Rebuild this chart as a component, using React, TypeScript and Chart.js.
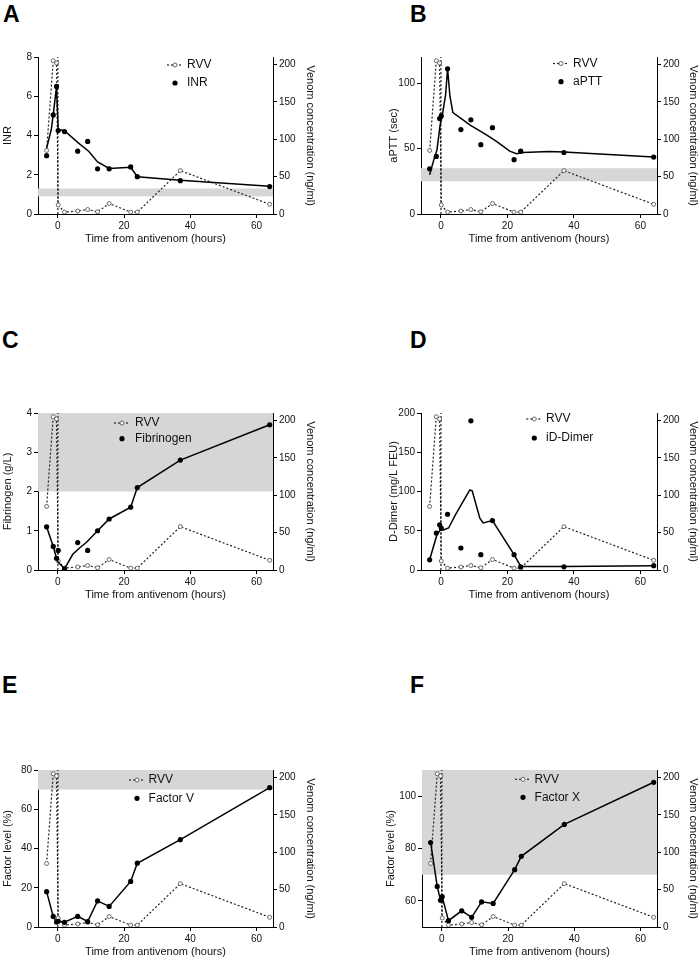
import React, { useEffect, useRef } from "react";
import { Chart, registerables } from "chart.js";

Chart.register(...registerables);

const FONT = "'Liberation Sans', Arial, Helvetica, sans-serif";

// ---------- data ----------
const sampleHours = [-3.4, -1.4, -0.4, 0.1, 2, 6, 9, 12, 15.5, 22, 24, 37, 64];
const rvvConc = [85, 205, 202, 12, 2.5, 4, 6, 3, 14, 2.5, 2.5, 58, 13];
const antivenomHour = 0;

const inrValues = [2.97, 5.05, 6.5, 4.25, 4.2, 3.2, 3.7, 2.3, 2.3, 2.4, 1.9, 1.7, 1.4];
const inrTrendHours = [-3.4, -2.0, -1.4, -0.4, 0.1, 2, 6, 9.3, 12, 15.5, 22, 24, 37, 64];
const inrTrendValues = [3.35, 4.3, 5.05, 6.5, 4.3, 4.25, 3.65, 3.2, 2.65, 2.32, 2.38, 1.9, 1.72, 1.41];

const apttValues = [34.5, 44, 73, 75, 111, 64.5, 72, 53, 66, 41.5, 48, 47, 43.5];
const apttTrendHours = [-3.4, -2.2, -1.2, -0.3, 0.5, 1.4, 2, 2.7, 3.6, 8.8, 13.7, 16.7, 20.7, 22.7, 24.7, 32.6, 37, 64];
const apttTrendValues = [30, 41, 49, 67, 77, 91, 111, 90, 77.5, 68, 60.5, 55.5, 48, 46, 47, 47.8, 47.3, 43.5];

const fibValues = [1.1, 0.6, 0.3, 0.5, 0.03, 0.7, 0.5, 1.0, 1.3, 1.6, 2.1, 2.8, 3.7];
const fibTrendHours = [-3.4, -1.4, -0.4, 0.1, 2, 4.5, 6.8, 8.6, 12, 15.5, 22, 24, 37, 64];
const fibTrendValues = [1.1, 0.6, 0.3, 0.2, 0.03, 0.4, 0.58, 0.7, 1.0, 1.3, 1.6, 2.1, 2.8, 3.7];

const ddimerValues = [13, 47, 57.5, 53.5, 71, 28, 190, 19.5, 63, 19.5, 4, 4, 5.5];
const ddimerTrendHours = [-3.4, -1.2, -0.2, 0.8, 2.3, 4.3, 7.3, 8.7, 9.4, 11.7, 12.7, 15.5, 22, 24, 37, 64];
const ddimerTrendValues = [13, 45, 51, 51, 53.5, 70, 92, 102, 101, 66, 60, 63, 19.5, 4.6, 4.5, 5.5];

const factorVValues = [18, 5.4, 2.5, 2.9, 2.4, 5.4, 2.8, 13.3, 10.5, 23.2, 32.5, 44.5, 71];
const factorXValues = [82.3, 65.5, 60.2, 61.6, 52.4, 56.2, 53.7, 59.6, 59, 71.9, 77, 89.2, 105.3];

const xTicks = [0, 20, 40, 60];
const venomTicks = [0, 50, 100, 150, 200];
const inrTicks = [0, 2, 4, 6, 8];
const apttTicks = [0, 50, 100];
const fibTicks = [0, 1, 2, 3, 4];
const ddimerTicks = [0, 50, 100, 150, 200];
const factorVTicks = [0, 20, 40, 60, 80];
const factorXTicks = [60, 80, 100];

const inrNormal = [0.9, 1.3];
const apttNormal = [25, 35];
const fibNormal = [2, 4];
const factorVNormal = [70, 80];
const factorXNormal = [70, 110];

const X_MIN = -6;
const X_MAX = 65;
const VENOM_MAX = 210;

// ---------- panel layout ----------
type Panel = {
  letter: string;
  letterX: number;
  letterBaseline: number;
  originX: number;
  plotLeft: number;
  plotRight: number;
  plotTop: number;
  plotBottom: number;
  leftTitleX: number;
  rightTitleX: number;
  yTitle: string;
  yMin: number;
  yMax: number;
  yTicks: number[];
  label: string;
  values: number[];
  trendHours?: number[];
  trendValues?: number[];
  connect?: boolean;
  band?: number[];
  legSym: number;
  legText: number;
  legRow1: number;
  legRow2: number;
};

const panels: Panel[] = [
  {
    letter: "A", letterX: 3, letterBaseline: 22,
    originX: 0, plotLeft: 38, plotRight: 273, plotTop: 57, plotBottom: 214,
    leftTitleX: 8, rightTitleX: 310,
    yTitle: "INR", yMin: 0, yMax: 8, yTicks: inrTicks,
    label: "INR", values: inrValues, trendHours: inrTrendHours, trendValues: inrTrendValues,
    band: inrNormal, legSym: 137, legText: 149, legRow1: 8, legRow2: 26,
  },
  {
    letter: "B", letterX: 410, letterBaseline: 22,
    originX: 350, plotLeft: 421, plotRight: 657, plotTop: 57, plotBottom: 214,
    leftTitleX: 394, rightTitleX: 693,
    yTitle: "aPTT (sec)", yMin: 0, yMax: 120, yTicks: apttTicks,
    label: "aPTT", values: apttValues, trendHours: apttTrendHours, trendValues: apttTrendValues,
    band: apttNormal, legSym: 140, legText: 152, legRow1: 6.5, legRow2: 24.7,
  },
  {
    letter: "C", letterX: 2, letterBaseline: 348,
    originX: 0, plotLeft: 38, plotRight: 273, plotTop: 413, plotBottom: 570,
    leftTitleX: 8, rightTitleX: 310,
    yTitle: "Fibrinogen (g/L)", yMin: 0, yMax: 4, yTicks: fibTicks,
    label: "Fibrinogen", values: fibValues, trendHours: fibTrendHours, trendValues: fibTrendValues,
    band: fibNormal, legSym: 84, legText: 97, legRow1: 10, legRow2: 25.7,
  },
  {
    letter: "D", letterX: 410, letterBaseline: 348,
    originX: 350, plotLeft: 421, plotRight: 657, plotTop: 413, plotBottom: 570,
    leftTitleX: 394, rightTitleX: 693,
    yTitle: "D-Dimer (mg/L FEU)", yMin: 0, yMax: 200, yTicks: ddimerTicks,
    label: "iD-Dimer", values: ddimerValues, trendHours: ddimerTrendHours, trendValues: ddimerTrendValues,
    legSym: 113.3, legText: 125, legRow1: 6, legRow2: 25,
  },
  {
    letter: "E", letterX: 2, letterBaseline: 693,
    originX: 0, plotLeft: 38, plotRight: 273, plotTop: 770, plotBottom: 927,
    leftTitleX: 8, rightTitleX: 310,
    yTitle: "Factor level (%)", yMin: 0, yMax: 80, yTicks: factorVTicks,
    label: "Factor V", values: factorVValues, connect: true,
    band: factorVNormal, legSym: 99, legText: 110.6, legRow1: 10, legRow2: 28.3,
  },
  {
    letter: "F", letterX: 410, letterBaseline: 693,
    originX: 350, plotLeft: 422, plotRight: 657, plotTop: 770, plotBottom: 927,
    leftTitleX: 391, rightTitleX: 693,
    yTitle: "Factor level (%)", yMin: 50, yMax: 110, yTicks: factorXTicks,
    label: "Factor X", values: factorXValues, connect: true,
    band: factorXNormal, legSym: 101, legText: 112.6, legRow1: 9.3, legRow2: 27.3,
  },
];

const CANVAS_W = 350;
const TOP_PAD = 12;
const X_AXIS_H = 33;
const TITLE_SIZE = 11;
const TICK_SIZE = 10;
const HALF_LINE = (TITLE_SIZE * 1.2) / 2;

function canvasHeight(p: Panel) {
  return TOP_PAD + (p.plotBottom - p.plotTop) + X_AXIS_H;
}

function PanelChart({ p }: { p: Panel }) {
  const ref = useRef<HTMLCanvasElement>(null);

  useEffect(() => {
    const canvas = ref.current;
    if (!canvas) return;
    const leftW = p.plotLeft - p.originX;
    const rightW = p.originX + CANVAS_W - p.plotRight;

    const datasets: any[] = [];
    datasets.push({
      label: p.label,
      data: sampleHours.map((h, i) => ({ x: h, y: p.values[i] })),
      showLine: !!p.connect,
      borderColor: "#000",
      borderWidth: 1.5,
      pointRadius: 2.6,
      pointBackgroundColor: "#000",
      pointBorderColor: "#000",
      pointBorderWidth: 0,
      yAxisID: "y",
    });
    if (p.trendHours && p.trendValues) {
      const tv = p.trendValues;
      datasets.push({
        label: p.label + " trend",
        data: p.trendHours.map((h, i) => ({ x: h, y: tv[i] })),
        showLine: true,
        borderColor: "#000",
        borderWidth: 1.5,
        pointRadius: 0,
        yAxisID: "y",
      });
    }
    datasets.push({
      label: "RVV",
      data: sampleHours.map((h, i) => ({ x: h, y: rvvConc[i] })),
      showLine: true,
      borderColor: "#222",
      borderWidth: 1.2,
      borderDash: [2, 2],
      pointRadius: 2,
      pointBackgroundColor: "#fff",
      pointBorderColor: "#666",
      pointBorderWidth: 1,
      yAxisID: "y1",
    });
    datasets.push({
      label: "antivenom",
      data: [
        { x: antivenomHour, y: 0 },
        { x: antivenomHour, y: VENOM_MAX },
      ],
      showLine: true,
      borderColor: "#222",
      borderWidth: 1.2,
      borderDash: [2, 2],
      pointRadius: 0,
      yAxisID: "y1",
    });

    const tickFont = { family: FONT, size: TICK_SIZE };
    const titleFont = { family: FONT, size: TITLE_SIZE };
    const grid = { drawOnChartArea: false, drawTicks: true, tickLength: 4, color: "#000", lineWidth: 1 };
    const border = { display: true, color: "#000", width: 1 };

    const bandPlugin = {
      id: "normalBand",
      beforeDatasetsDraw(chart: any) {
        if (!p.band) return;
        const { ctx, chartArea } = chart;
        const ys = chart.scales.y;
        const top = ys.getPixelForValue(p.band[1]);
        const bot = ys.getPixelForValue(p.band[0]);
        ctx.save();
        ctx.fillStyle = "#d6d6d6";
        ctx.fillRect(chartArea.left, top, chartArea.right - chartArea.left, bot - top);
        ctx.restore();
      },
    };

    const legendPlugin = {
      id: "panelLegend",
      afterDatasetsDraw(chart: any) {
        const { ctx, chartArea } = chart;
        const sx = chartArea.left + p.legSym;
        const tx = chartArea.left + p.legText;
        const y1 = chartArea.top + p.legRow1;
        const y2 = chartArea.top + p.legRow2;
        ctx.save();
        ctx.strokeStyle = "#222";
        ctx.lineWidth = 1.2;
        ctx.setLineDash([2, 2]);
        ctx.beginPath();
        ctx.moveTo(sx - 8, y1);
        ctx.lineTo(sx + 8, y1);
        ctx.stroke();
        ctx.setLineDash([]);
        ctx.beginPath();
        ctx.arc(sx, y1, 2, 0, Math.PI * 2);
        ctx.fillStyle = "#fff";
        ctx.fill();
        ctx.strokeStyle = "#666";
        ctx.lineWidth = 1;
        ctx.stroke();
        ctx.beginPath();
        ctx.arc(sx, y2, 2.6, 0, Math.PI * 2);
        ctx.fillStyle = "#000";
        ctx.fill();
        ctx.font = `12px ${FONT}`;
        ctx.fillStyle = "#111";
        ctx.textBaseline = "middle";
        ctx.textAlign = "left";
        ctx.fillText("RVV", tx, y1);
        ctx.fillText(p.label, tx, y2);
        ctx.restore();
      },
    };

    const chart = new Chart(canvas, {
      type: "scatter",
      data: { datasets },
      plugins: [bandPlugin, legendPlugin],
      options: {
        animation: false,
        responsive: false,
        maintainAspectRatio: false,
        devicePixelRatio: 1,
        layout: { padding: { top: TOP_PAD, left: 0, right: 0, bottom: 0 } },
        plugins: { legend: { display: false }, tooltip: { enabled: false }, title: { display: false } },
        scales: {
          x: {
            type: "linear",
            position: "bottom",
            min: X_MIN,
            max: X_MAX,
            afterBuildTicks: (s: any) => {
              s.ticks = xTicks.map((v) => ({ value: v }));
            },
            afterFit: (s: any) => {
              s.height = X_AXIS_H;
            },
            grid,
            border,
            ticks: { font: tickFont, color: "#111", padding: 2, maxRotation: 0, autoSkip: false },
            title: {
              display: true,
              text: "Time from antivenom (hours)",
              font: titleFont,
              color: "#111",
              padding: { top: 0, bottom: 1.4 },
            },
          },
          y: {
            type: "linear",
            position: "left",
            min: p.yMin,
            max: p.yMax,
            afterBuildTicks: (s: any) => {
              s.ticks = p.yTicks.map((v) => ({ value: v }));
            },
            afterFit: (s: any) => {
              s.width = leftW;
            },
            grid,
            border,
            ticks: { font: tickFont, color: "#111", padding: 2, autoSkip: false },
            title: {
              display: true,
              text: p.yTitle,
              font: titleFont,
              color: "#111",
              padding: { top: p.leftTitleX - p.originX - HALF_LINE, bottom: 0 },
            },
          },
          y1: {
            type: "linear",
            position: "right",
            min: 0,
            max: VENOM_MAX,
            afterBuildTicks: (s: any) => {
              s.ticks = venomTicks.map((v) => ({ value: v }));
            },
            afterFit: (s: any) => {
              s.width = rightW;
            },
            grid,
            border,
            ticks: { font: tickFont, color: "#111", padding: 2, autoSkip: false },
            title: {
              display: true,
              text: "Venom concentration (ng/ml)",
              font: titleFont,
              color: "#111",
              padding: { top: p.originX + CANVAS_W - p.rightTitleX - HALF_LINE, bottom: 0 },
            },
          },
        },
      } as any,
    });
    return () => chart.destroy();
  }, [p]);

  const h = canvasHeight(p);
  return (
    <canvas
      ref={ref}
      width={CANVAS_W}
      height={h}
      style={{
        position: "absolute",
        left: p.originX,
        top: p.plotTop - TOP_PAD,
        width: CANVAS_W,
        height: h,
      }}
    />
  );
}

export default function App() {
  return (
    <div
      style={{
        position: "fixed",
        left: 0,
        top: 0,
        width: 700,
        height: 960,
        background: "#fff",
        overflow: "hidden",
        fontFamily: FONT,
      }}
    >
      {panels.map((p) => (
        <PanelChart key={p.letter} p={p} />
      ))}
      {panels.map((p) => (
        <div
          key={"L" + p.letter}
          style={{
            position: "absolute",
            left: p.letterX,
            top: p.letterBaseline - 19.5,
            fontSize: 23,
            lineHeight: "23px",
            fontWeight: "bold",
            color: "#000",
            fontFamily: FONT,
          }}
        >
          {p.letter}
        </div>
      ))}
    </div>
  );
}
